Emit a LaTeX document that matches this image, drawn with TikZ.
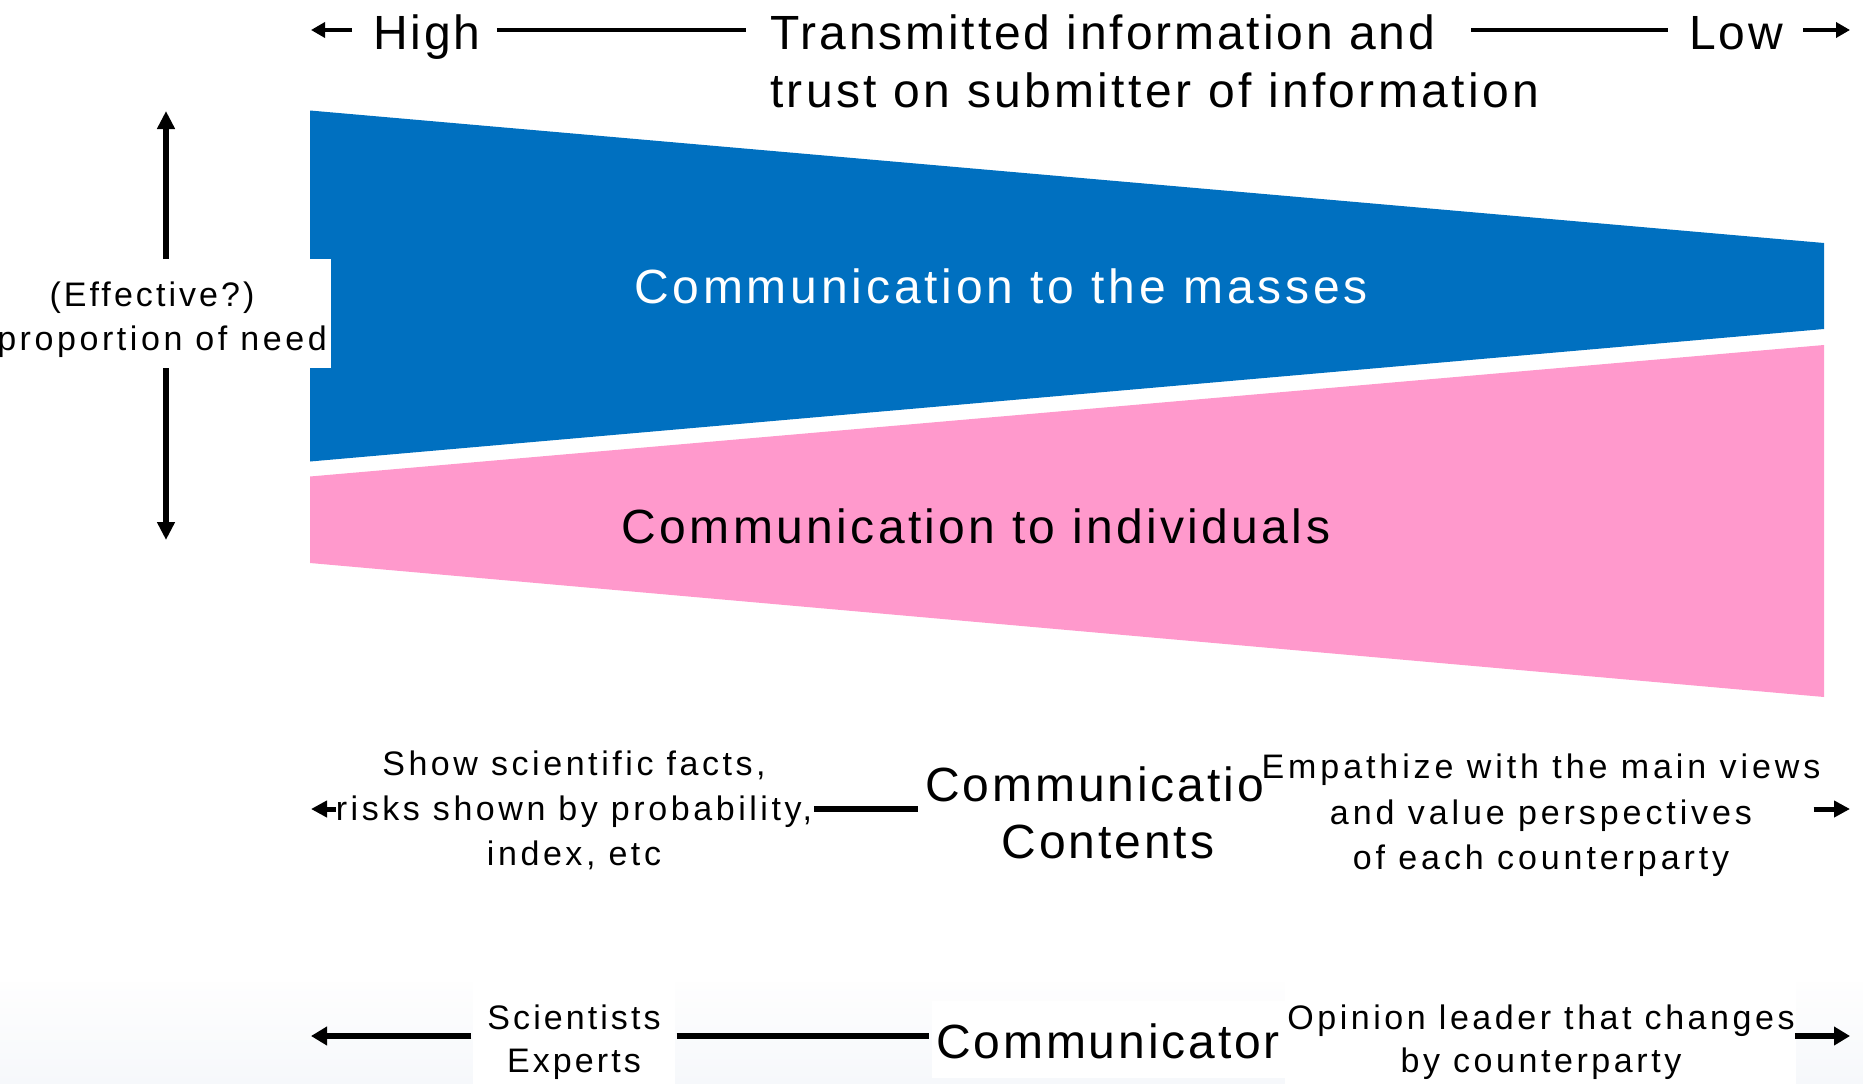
\documentclass[tikz,border=0pt]{standalone}
\usepackage{fontspec}
\setmainfont{Liberation Sans}
\newfontfamily\bigfont[LetterSpace=6]{Liberation Sans}
\newfontfamily\widefont[LetterSpace=7]{Liberation Sans}
\newfontfamily\widerfont[LetterSpace=8]{Liberation Sans}
\newfontfamily\smallfont[LetterSpace=9]{Liberation Sans}
\newfontfamily\smallwfont[LetterSpace=10.5]{Liberation Sans}
\newfontfamily\smallxfont[LetterSpace=11.5]{Liberation Sans}
\usetikzlibrary{arrows.meta}
\definecolor{massblue}{HTML}{0070C0}
\definecolor{indpink}{HTML}{FF99CC}
\definecolor{bandtop}{RGB}{254,254,254}
\definecolor{bandbot}{RGB}{246,248,251}
\tikzset{
  big/.style={font={\bigfont\fontsize{48}{57}\selectfont}, inner sep=0pt},
  wide/.style={font={\widefont\fontsize{48}{57}\selectfont}, inner sep=0pt},
  wider/.style={font={\widerfont\fontsize{48}{57}\selectfont}, inner sep=0pt},
  small/.style={font={\smallfont\fontsize{34}{45}\selectfont}, inner sep=0pt},
  smallw/.style={font={\smallwfont\fontsize{34}{45}\selectfont}, inner sep=0pt},
  smallx/.style={font={\smallxfont\fontsize{34}{45.5}\selectfont}, inner sep=0pt},
  smalltight/.style={font={\smallfont\fontsize{34}{43}\selectfont}, inner sep=0pt},
  smallwtight/.style={font={\smallwfont\fontsize{34}{43}\selectfont}, inner sep=0pt},
  topline/.style={line width=4.5pt},
  toparrow/.style={line width=4.5pt, -{Triangle[length=14pt,width=15pt]}},
  midline/.style={line width=5.5pt},
  midarrow/.style={line width=5pt, -{Triangle[length=16pt,width=16pt]}},
  botline/.style={line width=6.5pt},
  botarrow/.style={line width=6pt, -{Triangle[length=16pt,width=18pt]}},
  varrow/.style={line width=6pt, -{Triangle[length=18pt,width=17pt]}},
}
\begin{document}
\begin{tikzpicture}[x=1pt,y=-1pt]
\useasboundingbox (0,0) rectangle (1863,1084);
% faint band at the bottom
\shade[top color=bandtop, bottom color=bandbot] (0,982) rectangle (1863,1084);
\fill[white] (473,982) rectangle (675,1084);
\fill[white] (932,1001) rectangle (1285,1078);
\fill[white] (1285,982) rectangle (1796,1084);
% wedges
\fill[massblue] (310,110.5) -- (1824,243) -- (1824,329) -- (310,461.5) -- cycle;
\fill[indpink] (310,476.5) -- (1824,345) -- (1824,697) -- (310,563) -- cycle;
\node[wider, text=white, anchor=base] (masses) at (1001,303) {Communication to the masses};
\node[wide, anchor=base] (indiv) at (976,543) {Communication to individuals};
% left axis
\node[fill=white, inner sep=0pt, minimum width=331pt, minimum height=109pt, anchor=north west] (effbox) at (0,259) {};
\node[small, anchor=base] (eff1) at (152,306) {(Effective?)};
\node[smallw, anchor=base east] (eff2) at (327,350) {proportion of need};
\coordinate (vtop) at (166,111);
\coordinate (vbot) at (166,540);
\draw[varrow] (vtop |- effbox.north) -- (vtop);
\draw[varrow] (vbot |- effbox.south) -- (vbot);
% top row
\coordinate (tl) at (311,30);
\coordinate (tr) at (1850,30);
\node[big, anchor=base] (high) at (427,49) {High};
\node[big, anchor=base west] (trans1) at (770,49) {Transmitted information and};
\node[wide, anchor=base west] (trans2) at (770,107) {trust on submitter of information};
\node[big, anchor=base] (low) at (1736,49) {Low};
\draw[toparrow, shorten <=21pt] (tl -| high.west) -- (tl);
\draw[topline, shorten <=16pt, shorten >=24pt] (tl -| high.east) -- (tl -| trans1.west);
\draw[topline, shorten <=36pt, shorten >=21pt] (tl -| trans1.east) -- (tl -| low.west);
\draw[toparrow, shorten <=20pt] (tl -| low.east) -- (tr);
% middle row
\coordinate (ml) at (311,809);
\coordinate (mr) at (1850,809);
\node[smallw, align=center, anchor=north] (show) at (574,751) {Show scientific facts,\\risks shown by probability,\\index, etc};
\node[big, align=center, anchor=north] (cc) at (1108,767) {Communicatio\phantom{n}\\Contents};
\node[smallx, align=center, anchor=north] (emp) at (1541,754) {Empathize with the main views\\and value perspectives\\of each counterparty};
\draw[midarrow] (ml -| show.west) -- (ml);
\draw[midline, shorten <=2pt, shorten >=7pt] (ml -| show.east) -- (ml -| cc.west);
\draw[midarrow, shorten <=-7pt] (mr -| emp.east) -- (mr);
% bottom row
\coordinate (bl) at (311,1036);
\coordinate (br) at (1850,1036);
\node[smalltight, align=center, anchor=north] (sci) at (574,1005) {Scientists\\Experts};
\node[big, anchor=base] (comm) at (1108,1058) {Communicator};
\node[smallwtight, align=center, anchor=north] (opin) at (1541,1005) {Opinion leader that changes\\by counterparty};
\draw[botarrow, shorten <=16pt] (bl -| sci.west) -- (bl);
\draw[botline, shorten <=16pt, shorten >=7pt] (bl -| sci.east) -- (bl -| comm.west);
\draw[botarrow] (br -| opin.east) -- (br);
\end{tikzpicture}
\end{document}
